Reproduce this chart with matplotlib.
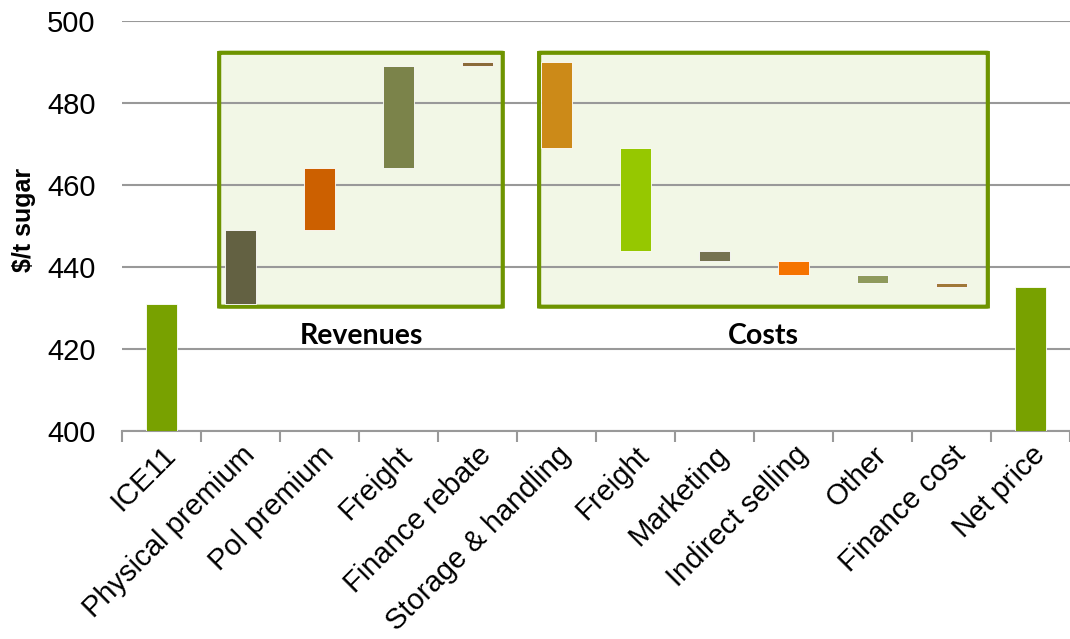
import numpy as np
import matplotlib
matplotlib.use("Agg")
import matplotlib.pyplot as plt
from matplotlib.patches import FancyBboxPatch

# waterfall data, $/t sugar
categories = ["ICE11", "Physical premium", "Pol premium", "Freight", "Finance rebate",
              "Storage & handling", "Freight", "Marketing", "Indirect selling", "Other",
              "Finance cost", "Net price"]
bar_bottom = [400, 431, 449, 464, 489, 469, 444, 441.5, 438, 436, 435, 400]
bar_top = [431, 449, 464, 489, 490, 490, 469, 444, 441.5, 438, 436, 435]
bar_colors = ["#78A100", "#636142", "#CC6000", "#7B834A", "#8B6B3A",
              "#CC8A18", "#96C800", "#757250", "#F57300", "#8F9A5C",
              "#A07838", "#78A100"]

plt.rcParams['font.family'] = ['Liberation Sans', 'DejaVu Sans']

fig = plt.figure(figsize=(10.7, 6.39), dpi=100)
ax = fig.add_axes([0.114, 0.3255, 0.886, 0.642])

x = np.arange(len(categories))
heights = np.array(bar_top) - np.array(bar_bottom)
ax.bar(x, heights, bottom=bar_bottom, width=0.4, color=bar_colors,
       edgecolor="#ffffff", linewidth=0.6, zorder=3)

# the two framed groups
boxes = [(0.73, 4.32, "Revenues"), (4.78, 10.46, "Costs")]
for x0, x1, label in boxes:
    fill = FancyBboxPatch((x0, 430.3), x1 - x0, 492.2 - 430.3,
                          boxstyle="square,pad=0", facecolor="#F2F7E6",
                          edgecolor="none", zorder=0.1)
    ax.add_patch(fill)
    frame = FancyBboxPatch((x0, 430.3), x1 - x0, 492.2 - 430.3,
                           boxstyle="round,pad=0,rounding_size=0.03",
                           facecolor="none", edgecolor="#6E9400",
                           linewidth=3.0, zorder=2)
    ax.add_patch(frame)
    ax.text((x0 + x1) / 2, 423.2, label, ha="center", va="center",
            fontsize=20.5, fontweight="bold", family=["Lato", "DejaVu Sans"])

ax.set_xlim(-0.5, len(categories) - 0.5)
ax.set_ylim(400, 500)
ax.set_yticks(np.arange(400, 501, 20))
ax.yaxis.grid(True, color="#999999", linewidth=1.5)
ax.set_axisbelow(True)

ax.set_xticks(x)
ax.set_xticklabels(categories, rotation=45, ha="right", rotation_mode="anchor",
                   fontsize=21)
ax.tick_params(axis="x", length=0, pad=7)
ax.set_xticks(np.arange(-0.5, len(categories), 1), minor=True)
ax.tick_params(axis="x", which="minor", length=8, width=1.5, color="#999999")
ax.tick_params(axis="y", labelsize=21, length=0, pad=19)

for side in ["top", "right", "left"]:
    ax.spines[side].set_visible(False)
ax.spines["bottom"].set_color("#999999")
ax.spines["bottom"].set_linewidth(1.5)

ax.set_ylabel("$/t sugar", fontsize=18, fontweight="bold")
ax.yaxis.set_label_coords(-0.091, 0.515)

fig.savefig("out.png", dpi=100)
